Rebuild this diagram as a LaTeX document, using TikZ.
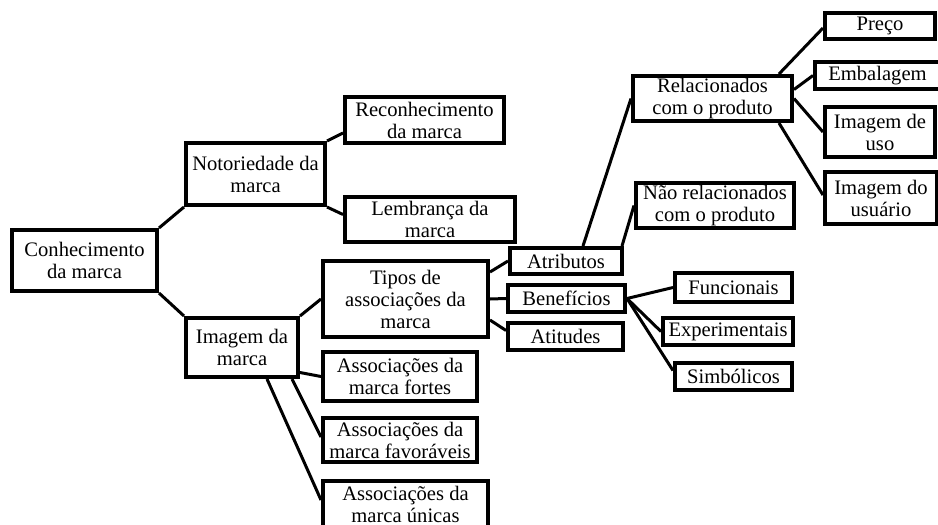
\documentclass[tikz,border=0pt]{standalone}
\usepackage{fontspec}
\setmainfont{Liberation Serif}
\usetikzlibrary{calc}
\tikzset{
  every picture/.style={line width=1.5pt},
  box/.style 2 args={draw, line width=2pt, fill=white, align=center, inner sep=0pt,
    minimum width=#1*0.5pt, minimum height=#2*0.5pt,
    font=\fontsize{10.3}{11}\selectfont},
  link/.style={draw=black, line width=1.5pt},
}
\begin{document}
\begin{tikzpicture}[x=0.5pt, y=-0.5pt]
  \useasboundingbox (0,0) rectangle (938,525);
  % level 1 and 2
  \node[box={145}{61}] (know) at (84.5,260.5) {Conhecimento\\da marca};
  \node[box={139}{62}] (noto) at (255.5,174) {Notoriedade da\\marca};
  \node[box={112}{59}] (imag) at (242,347.5) {Imagem da\\marca};
  % brand awareness
  \node[box={159}{46}] (recon) at (424.5,120) {Reconhecimento\\da marca};
  \node[box={170}{45}] (lembr) at (430,219.5) {Lembrança da\\marca};
  % brand image
  \node[box={165}{76}] (tipos) at (405.5,299) {Tipos de\\associações da\\marca};
  \node[box={154}{49}] (fortes) at (400,376.5) {Associações da\\marca fortes};
  \node[box={154}{44}] (favor) at (400,440) {Associações da\\marca favoráveis};
  \node[box={165}{46}] (unicas) at (405.5,504) {Associações da\\marca únicas};
  % types of associations
  \node[box={112}{26}] (atrib) at (566,261) {Atributos};
  \node[box={117}{27}] (benef) at (566.5,298.5) {Benefícios};
  \node[box={115}{27}] (atit) at (565.5,336.5) {Atitudes};
  % attributes
  \node[box={159}{45}] (relac) at (712.5,98.5) {Relacionados\\com o produto};
  \node[box={158}{45}] (naorel) at (715,205.5) {Não relacionados\\com o produto};
  \node[box={110}{26}] (preco) at (880,26) {Preço};
  \node[box={125}{27}] (embal) at (877.5,75.5) {Embalagem};
  \node[box={110}{50}] (imguso) at (880,132) {Imagem de\\uso};
  \node[box={112}{52}] (imgusu) at (881,198) {Imagem do\\usuário};
  % benefits
  \node[box={117}{29}] (funcio) at (733.5,287.5) {Funcionais};
  \node[box={130}{27}] (exper) at (728,331.5) {Experimentais};
  \node[box={117}{27}] (simbol) at (733.5,376.5) {Simbólicos};

  \draw[link] (know.north east) -- (noto.south west);
  \draw[link] (know.south east) -- (imag.north west);
  \draw[link] (noto.north east) -- ($(recon.west)+(0,13)$);
  \draw[link] (noto.south east) -- ($(lembr.west)+(0,-5)$);
  \draw[link] (imag.north east) -- (tipos.west);
  \draw[link] ($(imag.east)+(0,25)$) -- (fortes.west);
  \draw[link] ($(imag.south east)+(-8,0)$) -- ($(favor.west)+(0,-3)$);
  \draw[link] ($(imag.south east)+(-33,0)$) -- ($(unicas.west)+(0,-4)$);
  \draw[link] ($(tipos.east)+(0,-27)$) -- (atrib.west);
  \draw[link] (tipos.east) -- (benef.west);
  \draw[link] ($(tipos.east)+(0,21)$) -- ($(atit.west)+(0,-6)$);
  \draw[link] ($(atrib.north)+(17,0)$) -- (relac.west);
  \draw[link] ($(atrib.north east)+(-2,0)$) -- (naorel.west);
  \draw[link] ($(relac.north east)+(-15,0)$) -- ($(preco.west)+(0,2)$);
  \draw[link] ($(relac.east)+(0,-9)$) -- (embal.west);
  \draw[link] (relac.east) -- (imguso.west);
  \draw[link] ($(relac.south east)+(-15,0)$) -- ($(imgusu.west)+(0,-3)$);
  \draw[link] (benef.east) -- (funcio.west);
  \draw[link] (benef.east) -- (exper.west);
  \draw[link] (benef.east) -- ($(simbol.west)+(0,-6)$);
\end{tikzpicture}
\end{document}
